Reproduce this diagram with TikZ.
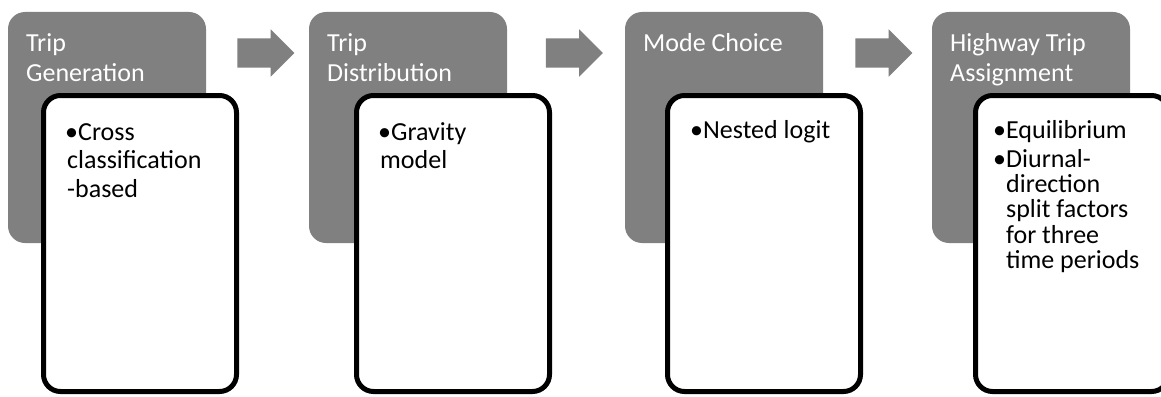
\documentclass[tikz,border=0pt]{standalone}
\usepackage{fontspec}
\setmainfont{Carlito}
\usetikzlibrary{shapes.arrows}
\definecolor{boxgray}{RGB}{128,128,128}
\newcommand{\lines}[1]{\begin{tabular}[t]{@{}l@{}}#1\end{tabular}}
\begin{document}
\begin{tikzpicture}[x=1pt,y=-1pt,
  graybox/.style={fill=boxgray, draw=none, rounded corners=17pt, minimum width=198pt, minimum height=231pt, anchor=north west, inner sep=0pt, outer sep=0pt},
  whitebox/.style={fill=white, draw=black, line width=5pt, rounded corners=17pt, minimum width=193pt, minimum height=296pt, anchor=north west, inner sep=0pt, outer sep=0pt},
  flowarrow/.style={single arrow, fill=boxgray, draw=none, inner xsep=0pt, inner ysep=14.5pt, single arrow head extend=9pt, minimum height=57pt, outer sep=0pt},
  title/.style={text=white, font=\fontsize{26}{30}\selectfont, anchor=base west, inner sep=0pt},
  item/.style={text=black, font=\fontsize{26}{28.5}\selectfont, anchor=base west, inner sep=0pt}]
\useasboundingbox (0,0) rectangle (1161,396);
\clip (0,0) rectangle (1161,396);
\fill[white] (0,0) rectangle (1161,396);
% gray stage boxes
\node[graybox] (g1) at (8,12) {};
\node[graybox] (g2) at (309,12) {};
\node[graybox] (g3) at (625,12) {};
\node[graybox] (g4) at (932,12) {};
\node[title] (t1) at (26,52) {\lines{Trip\\Generation}};
\node[title] (t2) at (327,52) {\lines{Trip\\Distribution}};
\node[title] (t3) at (643,52) {Mode Choice};
\node[title] (t4) at (950,52) {\lines{Highway Trip\\Assignment}};
% arrows
\node[flowarrow] (a1) at (258.5,53) {};
\node[flowarrow] (a2) at (567,53) {};
\node[flowarrow] (a3) at (876.5,53) {};
% white detail boxes
\node[whitebox] (w1) at (43.5,95.5) {};
\node[whitebox] (w2) at (356.5,95.5) {};
\node[whitebox] (w3) at (667.5,95.5) {};
\node[whitebox] (w4) at (975.5,95.5) {};
\node[item] (i1) at (65,140) {\lines{•Cross\\\hspace*{2pt}classification\\\hspace*{2pt}-based}};
\node[item] (i2) at (378,140) {\lines{•Gravity\\\hspace*{2pt}model}};
\node[item] (i3) at (690,138) {•Nested logit};
\node[item] (i4) at (993,138) {•Equilibrium};
\node[item,font=\fontsize{26}{24.5}\selectfont] (i5) at (993,167) {\lines{•Diurnal-\\\phantom{•}direction\\\phantom{•}split factors\\\phantom{•}for three\\\phantom{•}time periods}};
\end{tikzpicture}
\end{document}
